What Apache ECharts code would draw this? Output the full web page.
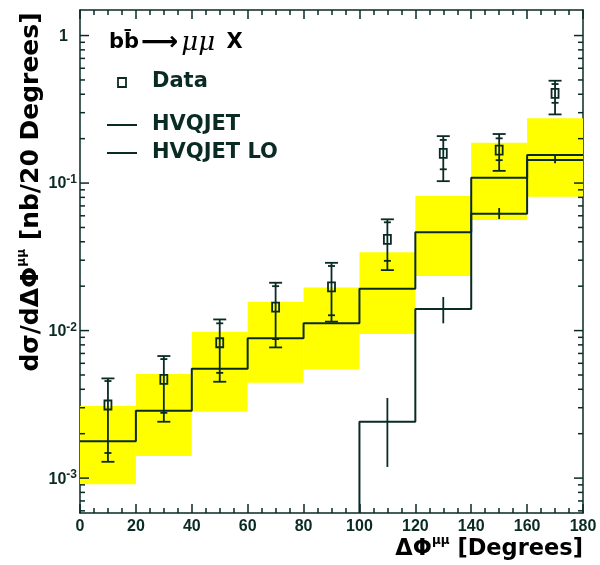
<!DOCTYPE html>
<html>
<head>
<meta charset="utf-8">
<script src="https://cdn.jsdelivr.net/npm/echarts@6/dist/echarts.min.js"></script>
<style>
  html, body { margin: 0; padding: 0; background: #ffffff; }
  #chart { width: 600px; height: 565px; }
</style>
</head>
<body>
<div id="chart"></div>
<script>
// Delta-phi bins (degrees)
const binEdges = [0, 20, 40, 60, 80, 100, 120, 140, 160, 180];
const binCenters = [10, 30, 50, 70, 90, 110, 130, 150, 170];

// Measured cross section, nb / 20 degrees
const dataValues   = [3.13e-3, 4.67e-3, 8.27e-3, 1.44e-2, 1.98e-2, 4.15e-2, 0.159, 0.167, 0.406];
const dataStatLow  = [1.48e-3, 2.77e-3, 5.17e-3, 8.76e-3, 1.27e-2, 2.97e-2, 0.124, 0.143, 0.350];
const dataStatHigh = [4.55e-3, 6.41e-3, 1.12e-2, 2.00e-2, 2.74e-2, 5.42e-2, 0.196, 0.201, 0.469];
const dataTotLow   = [1.29e-3, 2.41e-3, 4.50e-3, 7.69e-3, 1.15e-2, 2.57e-2, 0.103, 0.121, 0.292];
const dataTotHigh  = [4.74e-3, 6.72e-3, 1.19e-2, 2.11e-2, 2.88e-2, 5.68e-2, 0.208, 0.215, 0.494];

// HVQJET prediction with its uncertainty band
const hvqjet   = [1.78e-3, 2.86e-3, 5.51e-3, 8.86e-3, 1.12e-2, 1.92e-2, 4.64e-2, 0.1086, 0.1548];
const bandLow  = [9.10e-4, 1.41e-3, 2.82e-3, 4.43e-3, 5.46e-3, 9.47e-3, 2.34e-2, 5.61e-2, 8.07e-2];
const bandHigh = [3.08e-3, 5.07e-3, 9.81e-3, 1.57e-2, 1.96e-2, 3.39e-2, 8.16e-2, 0.1876, 0.2746];

// HVQJET leading order (empty below 100 degrees)
const hvqjetLO = [null, null, null, null, null, 2.41e-3, 1.40e-2, 6.19e-2, 0.1432];
const loLow    = [null, null, null, null, null, 1.19e-3, 1.12e-2, 5.70e-2, 0.1360];
const loHigh   = [null, null, null, null, null, 3.49e-3, 1.69e-2, 6.77e-2, 0.1532];

// Axis ranges
const X_MIN = 0, X_MAX = 180, X_STEP = 20;
const Y_MIN = 5.8e-4, Y_MAX = 1.49;

const INK = '#0a2a24';
const BAND = '#ffff00';
const LABEL_FONT = '"Liberation Sans", Arial, sans-serif';
const TITLE_FONT = '"DejaVu Sans", sans-serif';

// Histogram outline: horizontal segment per bin joined by vertical steps.
function stepPoints(values, floor) {
  const pts = [];
  values.forEach((v, i) => {
    if (v == null) return;
    if (pts.length === 0 && floor != null) pts.push([binEdges[i], floor]);
    pts.push([binEdges[i], v], [binEdges[i + 1], v]);
  });
  return pts;
}

// Log ticks: decades get long marks, 2..9 x 10^n get short ones (both frame sides)
const majorTickValues = [];
const minorTickValues = [];
for (let e = -4; e <= 0; e++) {
  const d = Math.pow(10, e);
  if (d > Y_MIN && d < Y_MAX) majorTickValues.push(d);
  for (let m = 2; m <= 9; m++) {
    const v = m * d;
    if (v > Y_MIN && v < Y_MAX) minorTickValues.push(v);
  }
}

function yLabel(v) {
  const lg = Math.log10(v);
  const e = Math.round(lg);
  if (Math.abs(lg - e) > 1e-6) return '';
  if (e === 0) return '{b|1}{gap|}';
  return '{b|10}{s|' + e + '}';
}

const tickRich = {
  b: { fontFamily: LABEL_FONT, fontWeight: 'bold', fontSize: 16, color: INK,
       padding: [6, 0, 0, 0], lineHeight: 18, verticalAlign: 'bottom' },
  s: { fontFamily: LABEL_FONT, fontWeight: 'bold', fontSize: 12, color: INK,
       lineHeight: 12, verticalAlign: 'top' },
  gap: { width: 9 }
};

function titleRich(size) {
  return {
    a: { fontFamily: TITLE_FONT, fontWeight: 'bold', fontSize: size, color: INK,
         padding: [6, 0, 0, 0], lineHeight: size + 3, verticalAlign: 'bottom' },
    s: { fontFamily: TITLE_FONT, fontWeight: 'bold', fontSize: 12, color: INK,
         lineHeight: 12, verticalAlign: 'top' }
  };
}

const frameLine = { show: true, onZero: false, lineStyle: { color: INK, width: 1.5 } };
const tickStyle = { color: INK, width: 1.5 };

function tickSeries(name, values, len) {
  return {
    name: name,
    type: 'custom',
    zlevel: 1,
    z: 10,
    silent: true,
    clip: false,
    data: values.map(v => [X_MIN, v]),
    encode: { x: 0, y: 1 },
    renderItem(params, api) {
      const v = api.value(1);
      const l = api.coord([X_MIN, v]);
      const r = api.coord([X_MAX, v]);
      const st = { stroke: INK, lineWidth: 1.5 };
      return {
        type: 'group',
        children: [
          { type: 'line', shape: { x1: l[0], y1: l[1], x2: l[0] + len, y2: l[1] }, style: st },
          { type: 'line', shape: { x1: r[0] - len, y1: r[1], x2: r[0], y2: r[1] }, style: st }
        ]
      };
    }
  };
}

const chart = echarts.init(document.getElementById('chart'));

chart.setOption({
  animation: false,
  backgroundColor: '#ffffff',
  grid: { left: 80, right: 17, top: 10, bottom: 52, containLabel: false },
  xAxis: [
    {
      type: 'value', min: X_MIN, max: X_MAX, interval: X_STEP,
      axisLine: frameLine,
      axisTick: { show: true, inside: true, length: 9, lineStyle: tickStyle },
      minorTick: { show: true, splitNumber: 4, length: 5, lineStyle: tickStyle },
      splitLine: { show: false },
      axisLabel: { margin: 6, fontFamily: LABEL_FONT, fontWeight: 'bold', fontSize: 16, color: INK }
    },
    {
      type: 'value', position: 'top', min: X_MIN, max: X_MAX, interval: X_STEP,
      axisLine: frameLine,
      axisTick: { show: true, inside: true, length: 9, lineStyle: tickStyle },
      minorTick: { show: true, splitNumber: 4, length: 5, lineStyle: tickStyle },
      splitLine: { show: false },
      axisLabel: { show: false }
    }
  ],
  yAxis: [
    {
      type: 'log', logBase: 10, min: Y_MIN, max: Y_MAX,
      axisLine: frameLine,
      axisTick: { show: false },
      splitLine: { show: false },
      axisLabel: { margin: 3, formatter: yLabel, rich: tickRich, showMinLabel: false, showMaxLabel: false }
    },
    {
      type: 'log', logBase: 10, min: Y_MIN, max: Y_MAX, position: 'right',
      axisLine: frameLine,
      axisTick: { show: false },
      splitLine: { show: false },
      axisLabel: { show: false }
    }
  ],
  series: [
    {
      name: 'HVQJET band',
      type: 'custom',
      z: 1,
      clip: true,
      data: binCenters.map((c, i) => [binEdges[i], binEdges[i + 1], bandLow[i], bandHigh[i]]),
      encode: { x: [0, 1], y: [2, 3] },
      renderItem(params, api) {
        const p1 = api.coord([api.value(0), api.value(3)]);
        const p2 = api.coord([api.value(1), api.value(2)]);
        return {
          type: 'rect',
          shape: { x: p1[0], y: p1[1], width: p2[0] - p1[0], height: p2[1] - p1[1] },
          style: { fill: BAND }
        };
      }
    },
    {
      name: 'HVQJET',
      type: 'line',
      z: 3,
      showSymbol: false,
      clip: true,
      data: stepPoints(hvqjet),
      lineStyle: { color: INK, width: 2 }
    },
    {
      name: 'HVQJET LO',
      type: 'line',
      z: 3,
      showSymbol: false,
      clip: true,
      data: stepPoints(hvqjetLO, Y_MIN),
      lineStyle: { color: INK, width: 2 }
    },
    {
      name: 'HVQJET LO errors',
      type: 'custom',
      z: 4,
      clip: true,
      data: binCenters.map((c, i) => [c, loLow[i], loHigh[i]]).filter(d => d[1] != null),
      encode: { x: 0, y: [1, 2] },
      renderItem(params, api) {
        const lo = api.coord([api.value(0), api.value(1)]);
        const hi = api.coord([api.value(0), api.value(2)]);
        return {
          type: 'line',
          shape: { x1: lo[0], y1: lo[1], x2: hi[0], y2: hi[1] },
          style: { stroke: INK, lineWidth: 1.8 }
        };
      }
    },
    {
      name: 'Data',
      type: 'custom',
      z: 5,
      clip: true,
      data: binCenters.map((c, i) => [c, dataValues[i], dataStatLow[i], dataStatHigh[i], dataTotLow[i], dataTotHigh[i]]),
      encode: { x: 0, y: [1, 4, 5] },
      renderItem(params, api) {
        const x = api.value(0);
        const c = api.coord([x, api.value(1)]);
        const sl = api.coord([x, api.value(2)]);
        const sh = api.coord([x, api.value(3)]);
        const tl = api.coord([x, api.value(4)]);
        const th = api.coord([x, api.value(5)]);
        const st = { stroke: INK, lineWidth: 1.8 };
        const capW = 6.5, tickW = 3.5, hw = 3.5, hh = 4.5;
        const hline = (p, w) => ({ type: 'line', shape: { x1: p[0] - w, y1: p[1], x2: p[0] + w, y2: p[1] }, style: st });
        return {
          type: 'group',
          children: [
            { type: 'line', shape: { x1: th[0], y1: th[1], x2: tl[0], y2: tl[1] }, style: st },
            hline(th, capW), hline(tl, capW),
            hline(sh, tickW), hline(sl, tickW),
            { type: 'rect', shape: { x: c[0] - hw, y: c[1] - hh, width: 2 * hw, height: 2 * hh },
              style: { stroke: INK, lineWidth: 1.8, fill: 'rgba(0,0,0,0)' } }
          ]
        };
      }
    },
    tickSeries('log ticks major', majorTickValues, 9),
    tickSeries('log ticks minor', minorTickValues, 5)
  ],
  graphic: [
    // axis titles
    {
      type: 'text', x: 30, y: 192, rotation: Math.PI / 2,
      style: { text: '{a|dσ/dΔΦ}{s|μμ}{a| [nb/20 Degrees]}', rich: titleRich(25), align: 'center', verticalAlign: 'middle' }
    },
    {
      type: 'text', x: 583, y: 548,
      style: { text: '{a|ΔΦ}{s|μμ}{a| [Degrees]}', rich: titleRich(22.5), align: 'right', verticalAlign: 'middle' }
    },
    // legend
    {
      type: 'text', x: 109, y: 43,
      style: {
        text: '{a|bb̄}{r|⟶}{m|μμ}{a| X}',
        rich: {
          a: { fontFamily: TITLE_FONT, fontWeight: 'bold', fontSize: 21, color: INK },
          r: { fontFamily: TITLE_FONT, fontWeight: 'bold', fontSize: 26, color: INK, padding: [0, 3, 0, 2] },
          m: { fontFamily: '"DejaVu Serif", serif', fontStyle: 'italic', fontSize: 26, color: INK, padding: [0, 4, 0, 0] }
        },
        align: 'left', verticalAlign: 'middle'
      }
    },
    {
      type: 'rect', shape: { x: 118, y: 78, width: 8, height: 9 },
      style: { stroke: INK, lineWidth: 1.8, fill: 'rgba(0,0,0,0)' }
    },
    {
      type: 'text', x: 152, y: 82,
      style: { text: 'Data', fontFamily: TITLE_FONT, fontWeight: 'bold', fontSize: 21, fill: INK, align: 'left', verticalAlign: 'middle' }
    },
    { type: 'line', shape: { x1: 107, y1: 125, x2: 137, y2: 125 }, style: { stroke: INK, lineWidth: 2 } },
    {
      type: 'text', x: 152, y: 125,
      style: { text: 'HVQJET', fontFamily: TITLE_FONT, fontWeight: 'bold', fontSize: 21, fill: INK, align: 'left', verticalAlign: 'middle' }
    },
    { type: 'line', shape: { x1: 107, y1: 153, x2: 137, y2: 153 }, style: { stroke: INK, lineWidth: 2 } },
    {
      type: 'text', x: 152, y: 153,
      style: { text: 'HVQJET LO', fontFamily: TITLE_FONT, fontWeight: 'bold', fontSize: 21, fill: INK, align: 'left', verticalAlign: 'middle' }
    }
  ]
});
</script>
</body>
</html>
